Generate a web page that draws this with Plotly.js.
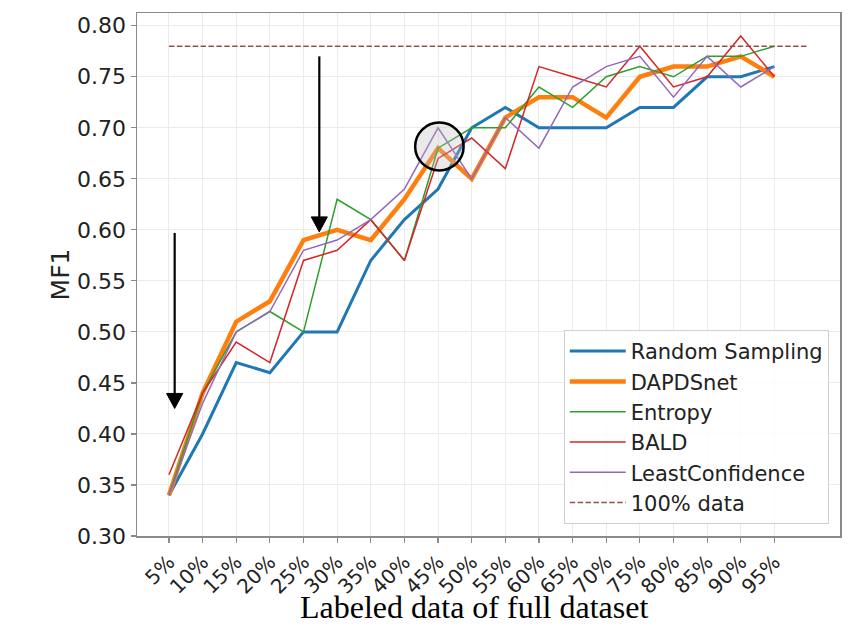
<!DOCTYPE html>
<html>
<head>
<meta charset="utf-8">
<script src="https://cdn.plot.ly/plotly-3.0.1.min.js"></script>
<style>html,body{margin:0;padding:0;background:#fff;}#chart{width:862px;height:629px;}</style>
</head>
<body>
<div id="chart"></div>
<script>
// ---- data ----
const categories = ['5%','10%','15%','20%','25%','30%','35%','40%','45%','50%','55%','60%','65%','70%','75%','80%','85%','90%','95%'];
const randomSampling = [0.34,0.40,0.47,0.46,0.50,0.50,0.57,0.61,0.64,0.70,0.72,0.70,0.70,0.70,0.72,0.72,0.75,0.75,0.76];
const dapdsnet       = [0.34,0.44,0.51,0.53,0.59,0.60,0.59,0.63,0.68,0.65,0.71,0.73,0.73,0.71,0.75,0.76,0.76,0.77,0.75];
const entropy        = [0.34,0.44,0.50,0.52,0.50,0.63,0.61,0.57,0.68,0.70,0.70,0.74,0.72,0.75,0.76,0.75,0.77,0.77,0.78];
const bald           = [0.36,0.44,0.49,0.47,0.57,0.58,0.61,0.57,0.67,0.69,0.66,0.76,0.75,0.74,0.78,0.74,0.75,0.79,0.75];
const leastConf      = [0.34,0.43,0.50,0.52,0.58,0.59,0.61,0.64,0.70,0.65,0.71,0.68,0.74,0.76,0.77,0.73,0.77,0.74,0.76];
const fullDataValue  = 0.78;
const fullDataSpan   = [0, 19];
const yTicks = [0.30,0.35,0.40,0.45,0.50,0.55,0.60,0.65,0.70,0.75,0.80];

// annotation marks (arrows + highlight circle), data coordinates
const arrows = [
  {x: 0.17, yTail: 0.597, yTip: 0.425},
  {x: 4.47, yTail: 0.770, yTip: 0.598}
];
const highlight = {x: 8.04, y: 0.6817, rx: 0.72, ry: 0.0235};

const xIdx = categories.map((_, i) => i);

const traces = [
  {name: 'Random Sampling', y: randomSampling, color: '#1f77b4', width: 3},
  {name: 'DAPDSnet', y: dapdsnet, color: '#ff7f0e', width: 4.5},
  {name: 'Entropy', y: entropy, color: '#2ca02c', width: 1.5},
  {name: 'BALD', y: bald, color: '#d62728', width: 1.5},
  {name: 'LeastConfidence', y: leastConf, color: '#9467bd', width: 1.5}
].map(s => ({
  type: 'scatter', mode: 'lines', x: xIdx, y: s.y, name: s.name,
  line: {color: s.color, width: s.width}
}));
traces.push({
  type: 'scatter', mode: 'lines', x: fullDataSpan, y: fullDataSpan.map(() => fullDataValue),
  name: '100% data', line: {color: '#8c564b', width: 1.5, dash: '5.5px,2.4px'}
});

// arrow shapes
const shapes = [];
const headLenY = 0.0147, headHalfX = 0.24;
arrows.forEach(a => {
  shapes.push({type: 'line', xref: 'x', yref: 'y', x0: a.x, x1: a.x, y0: a.yTail, y1: a.yTip + headLenY * 0.8,
    line: {color: '#000', width: 2.2}, layer: 'above'});
  shapes.push({type: 'path', xref: 'x', yref: 'y',
    path: `M ${a.x - headHalfX},${a.yTip + headLenY} L ${a.x + headHalfX},${a.yTip + headLenY} L ${a.x},${a.yTip} Z`,
    fillcolor: '#000', line: {color: '#000', width: 1}, layer: 'above'});
});
shapes.push({type: 'circle', xref: 'x', yref: 'y',
  x0: highlight.x - highlight.rx, x1: highlight.x + highlight.rx,
  y0: highlight.y - highlight.ry, y1: highlight.y + highlight.ry,
  fillcolor: 'rgba(190,190,190,0.32)', line: {color: '#000', width: 2.5}, layer: 'above'});

const layout = {
  width: 862, height: 629,
  margin: {l: 137, r: 22, t: 13, b: 93, pad: 0},
  paper_bgcolor: '#fff', plot_bgcolor: '#fff',
  showlegend: true,
  xaxis: {
    range: [-0.95, 19.95], tickmode: 'array', tickvals: xIdx, ticktext: categories,
    tickangle: -45, tickfont: {family: 'DejaVu Sans', size: 20, color: '#222'},
    showgrid: true, gridcolor: '#ebebeb', gridwidth: 1, zeroline: false,
    showline: true, mirror: true, linecolor: '#8a8a8a', linewidth: 1.5,
    ticks: 'outside', ticklen: 5, tickcolor: '#8a8a8a', tickwidth: 1.2,
    automargin: false
  },
  yaxis: {
    range: [0.30, 0.8125], tickmode: 'array', tickvals: yTicks, tickformat: '.2f',
    tickfont: {family: 'DejaVu Sans', size: 22, color: '#222'},
    showgrid: true, gridcolor: '#ebebeb', gridwidth: 1, zeroline: false,
    showline: true, mirror: true, linecolor: '#8a8a8a', linewidth: 1.5,
    ticks: 'outside', ticklen: 5, tickcolor: '#8a8a8a', tickwidth: 1.2,
    automargin: false,
    title: {text: 'MF1', font: {family: 'DejaVu Sans', size: 25, color: '#222'}, standoff: 0}
  },
  legend: {
    x: 0.984, xanchor: 'right', y: 0.023, yanchor: 'bottom',
    bgcolor: 'rgba(255,255,255,0.85)', bordercolor: '#d0d0d0', borderwidth: 1,
    itemwidth: 56,
    font: {family: 'DejaVu Sans', size: 21, color: '#222'}
  },
  annotations: [{
    text: 'Labeled data of full dataset', xref: 'paper', yref: 'paper',
    x: 0.48, y: -0.136, xanchor: 'center', yanchor: 'middle', showarrow: false,
    font: {family: 'Liberation Serif', size: 32, color: '#000'}
  }],
  shapes: shapes
};

Plotly.newPlot('chart', traces, layout, {displayModeBar: false, staticPlot: true});
</script>
</body>
</html>
